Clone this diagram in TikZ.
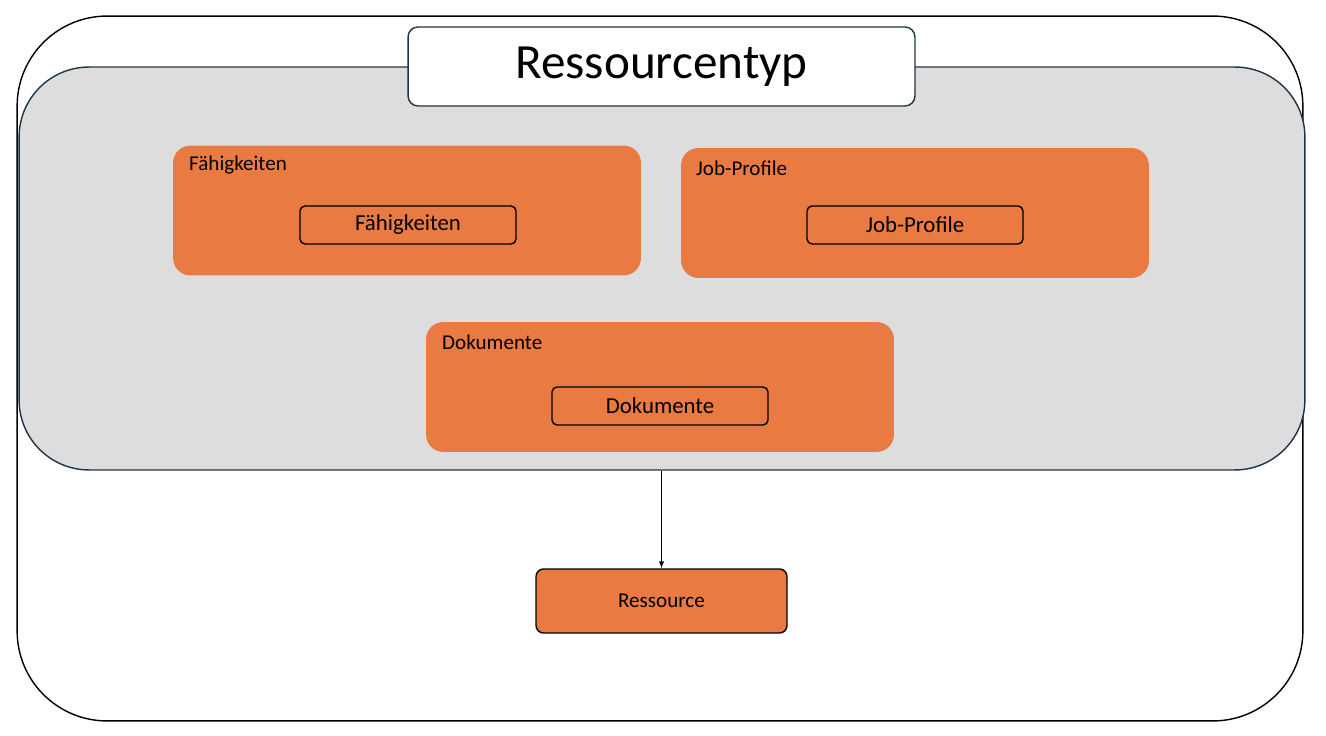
\documentclass[tikz,border=0pt]{standalone}
\usepackage{fontspec}
\setmainfont{Carlito}
\usetikzlibrary{positioning}
\definecolor{rsorange}{HTML}{E97B42}
\definecolor{rsgray}{HTML}{DDDDDD}
\definecolor{rsnavy}{HTML}{1F3547}
\tikzset{%
	group/.style = {rectangle, rounded corners=0.35cm, fill=rsorange,
		minimum width=9.36cm, minimum height=2.6cm},
	item/.style  = {draw, rectangle, rounded corners=0.1cm, thick,
		minimum width=4.32cm, minimum height=0.76cm, font=\fontsize{13}{15}\selectfont},
	tag/.style   = {anchor=west, font=\fontsize{12}{14}\selectfont}
}
\begin{document}
\begin{tikzpicture}[x=0.02cm, y=-0.02cm, >=latex]
	\useasboundingbox (0,0) rectangle (1326,736);
	\node[draw, thick, rounded corners=1.8cm, minimum width=25.72cm, minimum height=14.1cm] (outer) at (660,368.5) {};
	\node[draw=rsnavy, thick, fill=rsgray, rounded corners=1.4cm, minimum width=25.72cm, minimum height=8.06cm] (typ) at (662,268.5) {};
	\node[draw=rsnavy, thick, fill=white, rounded corners=0.2cm, minimum width=10.14cm, minimum height=1.58cm,
		font=\fontsize{28}{32}\selectfont] (title) at (661.5,66.5) {Ressourcentyp};

	\node[group] (faeh) at (407,210.5) {};
	\node[group] (job) at (915,213) {};
	\node[group] (dok) at (660,387) {};

	\node[tag] at (183,165) {Fähigkeiten};
	\node[tag] at (690,168) {Job-Profile};
	\node[tag] at (436,342) {Dokumente};

	\node[item] (faeh_i) at (408,225) {Fähigkeiten};
	\node[item] (job_i) at (915,225) {Job-Profile};
	\node[item] (dok_i) at (660,406) {Dokumente};

	\node[draw, thick, fill=rsorange, rounded corners=0.15cm, minimum width=5.02cm, minimum height=1.28cm,
		font=\fontsize{12}{14}\selectfont] (res) at (661.5,601) {Ressource};

	\draw[->] (typ.south -| res) -- (res);
\end{tikzpicture}
\end{document}
